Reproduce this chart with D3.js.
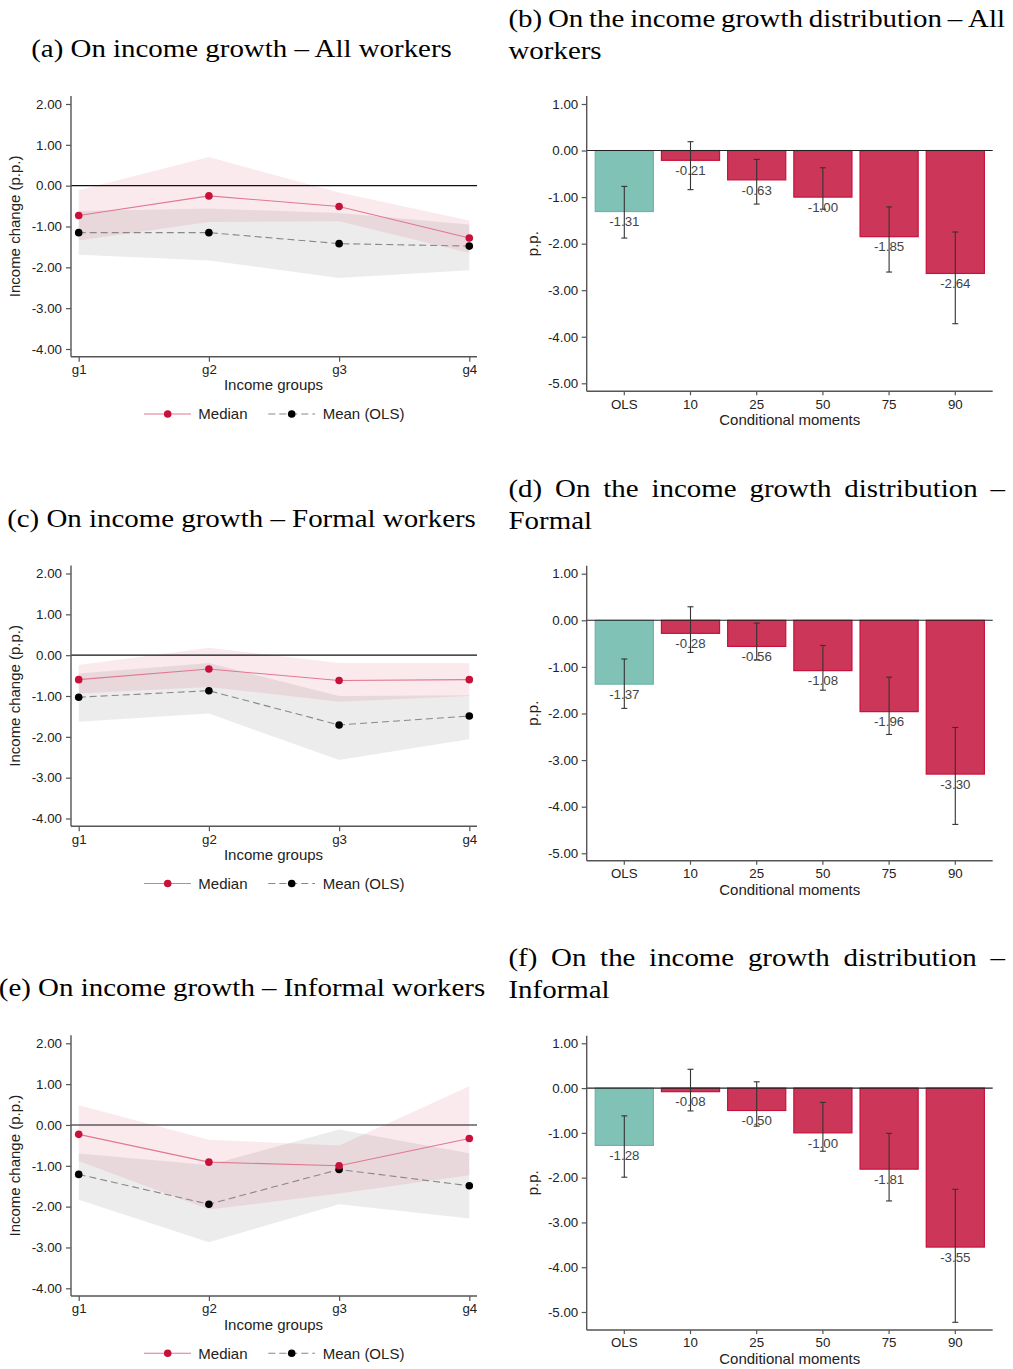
<!DOCTYPE html>
<html>
<head>
<meta charset="utf-8">
<script src="https://cdn.jsdelivr.net/npm/d3@7"></script>
<style>
  html, body { margin: 0; padding: 0; background: #fff; }
  svg { display: block; }
</style>
</head>
<body>
<svg id="chart" width="1013" height="1369"></svg>
<script>
// ---------------- DATA ----------------
const groups = ["g1", "g2", "g3", "g4"];
const moments = ["OLS", "10", "25", "50", "75", "90"];
const lineYTicks = [2, 1, 0, -1, -2, -3, -4];
const barYTicks = [1, 0, -1, -2, -3, -4, -5];
const legendLabels = ["Median", "Mean (OLS)"];

// (a) All workers
const medianAll   = [-0.73, -0.25, -0.51, -1.28];
const medianAllLo = [-1.34, -0.89, -0.87, -1.65];
const medianAllHi = [-0.11,  0.70, -0.17, -0.85];
const meanAll     = [-1.15, -1.15, -1.42, -1.48];
const meanAllLo   = [-1.69, -1.83, -2.26, -2.07];
const meanAllHi   = [-0.62, -0.56, -0.67, -0.95];

// (c) Formal workers
const medianFormal   = [-0.60, -0.34, -0.62, -0.60];
const medianFormalLo = [-0.94, -0.78, -1.14, -1.00];
const medianFormalHi = [-0.24,  0.18, -0.19, -0.20];
const meanFormal     = [-1.03, -0.87, -1.71, -1.49];
const meanFormalLo   = [-1.63, -1.43, -2.57, -2.06];
const meanFormalHi   = [-0.45, -0.19, -1.00, -0.98];

// (e) Informal workers
const medianInformal   = [-0.23, -0.91, -1.00, -0.33];
const medianInformalLo = [-0.88, -2.07, -1.68, -1.23];
const medianInformalHi = [ 0.48, -0.36, -0.50,  0.95];
const meanInformal     = [-1.21, -1.94, -1.09, -1.49];
const meanInformalLo   = [-1.83, -2.87, -1.94, -2.29];
const meanInformalHi   = [-0.70, -0.98, -0.11, -0.69];

// (b) distribution - All
const barsAll   = [-1.31, -0.21, -0.63, -1.00, -1.85, -2.64];
const barsAllLo = [-1.88, -0.84, -1.15, -1.26, -2.61, -3.72];
const barsAllHi = [-0.77,  0.19, -0.19, -0.37, -1.21, -1.75];
// (d) distribution - Formal
const barsFormal   = [-1.37, -0.28, -0.56, -1.08, -1.96, -3.30];
const barsFormalLo = [-1.89, -0.69, -0.85, -1.50, -2.45, -4.38];
const barsFormalHi = [-0.83,  0.29, -0.06, -0.54, -1.22, -2.30];
// (f) distribution - Informal
const barsInformal   = [-1.28, -0.08, -0.50, -1.00, -1.81, -3.55];
const barsInformalLo = [-1.99, -0.51, -0.85, -1.41, -2.52, -5.23];
const barsInformalHi = [-0.62,  0.42,  0.14, -0.32, -1.01, -2.26];

// Titles
const titleA = "(a) On income growth – All workers";
const titleB = ["(b) On the income growth distribution – All", "workers"];
const titleC = "(c) On income growth – Formal workers";
const titleD = ["(d) On the income growth distribution –", "Formal"];
const titleE = "(e) On income growth – Informal workers";
const titleF = ["(f) On the income growth distribution –", "Informal"];

// ---------------- STYLE ----------------
const SANS = "'Liberation Sans', Arial, Helvetica, sans-serif";
const SERIF = "'Liberation Serif', 'Times New Roman', serif";
const AXIS_COL = "#555";
const TEXT_COL = "#222";
const PINK = "#c8103a";
const PINK_LINE = "#e07890";
const TEAL_FILL = "#80c2b6";
const TEAL_STROKE = "#6db5a8";
const BAR_FILL = "#cc3759";
const BAR_STROKE = "#c8103a";

const svg = d3.select("#chart");
const fmt = d => d.toFixed(2);

// ---------------- LINE PANELS ----------------
function linePanel(off, med, medLo, medHi, mean, meanLo, meanHi) {
  const g = svg.append("g");
  const left = 71, right = 477, top = 96 + off, bottom = 356.7 + off;
  const x = d3.scalePoint().domain(groups).range([78.7, 469.3]);
  const y = d3.scaleLinear().domain([2, -4]).range([104 + off, 349 + off]);

  const rows = groups.map((k, i) => ({k, med: med[i], medLo: medLo[i], medHi: medHi[i],
    mean: mean[i], meanLo: meanLo[i], meanHi: meanHi[i]}));

  // bands
  g.append("path").datum(rows)
    .attr("d", d3.area().x(d => x(d.k)).y0(d => y(d.meanLo)).y1(d => y(d.meanHi)))
    .attr("fill", "#000").attr("fill-opacity", 0.075);
  g.append("path").datum(rows)
    .attr("d", d3.area().x(d => x(d.k)).y0(d => y(d.medLo)).y1(d => y(d.medHi)))
    .attr("fill", PINK).attr("fill-opacity", 0.085);

  // zero line
  g.append("line").attr("x1", left).attr("x2", right)
    .attr("y1", y(0)).attr("y2", y(0)).attr("stroke", "#111").attr("stroke-width", 1.1);

  // y axis
  const ya = g.append("g").attr("transform", `translate(${left},0)`)
    .call(d3.axisLeft(y).tickValues(lineYTicks).tickSize(5).tickPadding(4).tickFormat(fmt));
  ya.select(".domain").remove();
  ya.selectAll(".tick line").attr("stroke", AXIS_COL).attr("stroke-width", 1.2);
  ya.selectAll(".tick text").attr("font-family", SANS).attr("font-size", 13.3).attr("fill", TEXT_COL);
  g.append("line").attr("x1", left).attr("x2", left).attr("y1", top).attr("y2", bottom)
    .attr("stroke", AXIS_COL).attr("stroke-width", 1.4);

  // x axis
  const xa = g.append("g").attr("transform", `translate(0,${bottom})`)
    .call(d3.axisBottom(x).tickSize(5).tickPadding(3));
  xa.select(".domain").remove();
  xa.selectAll(".tick line").attr("stroke", AXIS_COL).attr("stroke-width", 1.2);
  xa.selectAll(".tick text").attr("font-family", SANS).attr("font-size", 13.3).attr("fill", TEXT_COL);
  g.append("line").attr("x1", left).attr("x2", right).attr("y1", bottom).attr("y2", bottom)
    .attr("stroke", AXIS_COL).attr("stroke-width", 1.4);

  // lines
  g.append("path").datum(rows)
    .attr("d", d3.line().x(d => x(d.k)).y(d => y(d.mean)))
    .attr("fill", "none").attr("stroke", "#888").attr("stroke-width", 1.1)
    .attr("stroke-dasharray", "7,4");
  g.append("path").datum(rows)
    .attr("d", d3.line().x(d => x(d.k)).y(d => y(d.med)))
    .attr("fill", "none").attr("stroke", PINK_LINE).attr("stroke-width", 1.1);

  g.selectAll(".mdot").data(rows).enter().append("circle")
    .attr("cx", d => x(d.k)).attr("cy", d => y(d.mean)).attr("r", 3.8).attr("fill", "#000");
  g.selectAll(".pdot").data(rows).enter().append("circle")
    .attr("cx", d => x(d.k)).attr("cy", d => y(d.med)).attr("r", 3.8).attr("fill", PINK);

  // axis titles
  g.append("text").attr("x", 273.5).attr("y", 390.4 + off).attr("text-anchor", "middle")
    .attr("font-family", SANS).attr("font-size", 15).attr("fill", TEXT_COL).text("Income groups");
  g.append("text").attr("transform", `translate(19.5,${(top + bottom) / 2}) rotate(-90)`)
    .attr("text-anchor", "middle")
    .attr("font-family", SANS).attr("font-size", 15).attr("fill", TEXT_COL).text("Income change (p.p.)");

  // legend
  const ly = 414 + off;
  g.append("line").attr("x1", 144).attr("x2", 191).attr("y1", ly).attr("y2", ly)
    .attr("stroke", PINK_LINE).attr("stroke-width", 1.1);
  g.append("circle").attr("cx", 167.7).attr("cy", ly).attr("r", 3.8).attr("fill", PINK);
  g.append("text").attr("x", 198.3).attr("y", ly + 5.4).attr("font-family", SANS)
    .attr("font-size", 15).attr("fill", TEXT_COL).text(legendLabels[0]);
  g.append("line").attr("x1", 268.3).attr("x2", 315).attr("y1", ly).attr("y2", ly)
    .attr("stroke", "#888").attr("stroke-width", 1.1).attr("stroke-dasharray", "7,4");
  g.append("circle").attr("cx", 291.7).attr("cy", ly).attr("r", 3.8).attr("fill", "#000");
  g.append("text").attr("x", 322.7).attr("y", ly + 5.4).attr("font-family", SANS)
    .attr("font-size", 15).attr("fill", TEXT_COL).text(legendLabels[1]);
}

// ---------------- BAR PANELS ----------------
function barPanel(top, bottom, y1px, y5px, vals, lo, hi) {
  const g = svg.append("g");
  const left = 586.7, right = 992.7;
  const x = d3.scaleBand().domain(moments).range([591.2, 988.4])
    .paddingInner(0.104).paddingOuter(0.052);
  const y = d3.scaleLinear().domain([1, -5]).range([y1px, y5px]);
  const rows = moments.map((k, i) => ({k, v: vals[i], lo: lo[i], hi: hi[i], i}));

  // bars
  g.selectAll(".bar").data(rows).enter().append("rect")
    .attr("x", d => x(d.k) + 0.6).attr("width", x.bandwidth() - 1.2)
    .attr("y", d => Math.min(y(0), y(d.v)))
    .attr("height", d => Math.abs(y(d.v) - y(0)))
    .attr("fill", d => d.i === 0 ? TEAL_FILL : BAR_FILL)
    .attr("stroke", d => d.i === 0 ? TEAL_STROKE : BAR_STROKE)
    .attr("stroke-width", 1.2);

  // zero line
  g.append("line").attr("x1", left).attr("x2", right).attr("y1", y(0)).attr("y2", y(0))
    .attr("stroke", "#222").attr("stroke-width", 1.1);

  // value labels
  g.selectAll(".vl").data(rows).enter().append("text")
    .attr("x", d => x(d.k) + x.bandwidth() / 2).attr("y", d => y(d.v) + 14.8)
    .attr("text-anchor", "middle").attr("font-family", SANS).attr("font-size", 13.3)
    .attr("fill", "#444").text(d => fmt(d.v));

  // error bars
  const eb = g.selectAll(".eb").data(rows).enter().append("g")
    .attr("stroke", "#333").attr("stroke-width", 1.1);
  eb.append("line").attr("x1", d => x(d.k) + x.bandwidth() / 2).attr("x2", d => x(d.k) + x.bandwidth() / 2)
    .attr("y1", d => y(d.hi)).attr("y2", d => y(d.lo));
  eb.append("line").attr("x1", d => x(d.k) + x.bandwidth() / 2 - 3).attr("x2", d => x(d.k) + x.bandwidth() / 2 + 3)
    .attr("y1", d => y(d.hi)).attr("y2", d => y(d.hi));
  eb.append("line").attr("x1", d => x(d.k) + x.bandwidth() / 2 - 3).attr("x2", d => x(d.k) + x.bandwidth() / 2 + 3)
    .attr("y1", d => y(d.lo)).attr("y2", d => y(d.lo));

  // y axis
  const ya = g.append("g").attr("transform", `translate(${left},0)`)
    .call(d3.axisLeft(y).tickValues(barYTicks).tickSize(5).tickPadding(3.5).tickFormat(fmt));
  ya.select(".domain").remove();
  ya.selectAll(".tick line").attr("stroke", AXIS_COL).attr("stroke-width", 1.2);
  ya.selectAll(".tick text").attr("font-family", SANS).attr("font-size", 13.3).attr("fill", TEXT_COL);
  g.append("line").attr("x1", left).attr("x2", left).attr("y1", top).attr("y2", bottom)
    .attr("stroke", AXIS_COL).attr("stroke-width", 1.4);

  // x axis
  const xa = g.append("g").attr("transform", `translate(0,${bottom})`)
    .call(d3.axisBottom(x).tickSize(4).tickPadding(4));
  xa.select(".domain").remove();
  xa.selectAll(".tick line").attr("stroke", AXIS_COL).attr("stroke-width", 1.2);
  xa.selectAll(".tick text").attr("font-family", SANS).attr("font-size", 13.3).attr("fill", TEXT_COL);
  g.append("line").attr("x1", left).attr("x2", right).attr("y1", bottom).attr("y2", bottom)
    .attr("stroke", AXIS_COL).attr("stroke-width", 1.4);

  // axis titles
  g.append("text").attr("x", 789.7).attr("y", bottom + 34)
    .attr("text-anchor", "middle").attr("font-family", SANS).attr("font-size", 15)
    .attr("fill", TEXT_COL).text("Conditional moments");
  g.append("text").attr("transform", `translate(538,${(top + bottom) / 2}) rotate(-90)`)
    .attr("text-anchor", "middle").attr("font-family", SANS).attr("font-size", 15)
    .attr("fill", TEXT_COL).text("p.p.");
}

linePanel(0, medianAll, medianAllLo, medianAllHi, meanAll, meanAllLo, meanAllHi);
linePanel(469.5, medianFormal, medianFormalLo, medianFormalHi, meanFormal, meanFormalLo, meanFormalHi);
linePanel(939.3, medianInformal, medianInformalLo, medianInformalHi, meanInformal, meanInformalLo, meanInformalHi);

barPanel(96, 391.3, 104, 383.3, barsAll, barsAllLo, barsAllHi);
barPanel(565.7, 860.7, 573.7, 853.3, barsFormal, barsFormalLo, barsFormalHi);
barPanel(1035.7, 1330, 1043.3, 1312, barsInformal, barsInformalLo, barsInformalHi);

// ---------------- TITLES ----------------
const TFS = 26;
const measure = svg.append("text").attr("font-family", SERIF).attr("font-size", TFS).attr("opacity", 0);
function textW(s) { measure.text(s); return measure.node().getComputedTextLength(); }
const scales = [[titleA, 421.2], [titleC, 469], [titleE, 486]].map(([s, w]) => w / textW(s));
const S = d3.mean(scales);

function titleText(str, x, y, anchor) {
  svg.append("text").attr("transform", `translate(${x},${y}) scale(${S},1)`)
    .attr("text-anchor", anchor).attr("font-family", SERIF).attr("font-size", TFS)
    .attr("fill", "#000").text(str);
}
function justified(str, x0, x1, y) {
  const words = str.split(" ");
  const ws = words.map(w => textW(w) * S);
  const gap = (x1 - x0 - d3.sum(ws)) / (words.length - 1);
  let px = x0;
  words.forEach((w, i) => { titleText(w, px, y, "start"); px += ws[i] + gap; });
}
titleText(titleA, 241.5, 57.3, "middle");
titleText(titleC, 241.5, 526.8, "middle");
titleText(titleE, 242, 996, "middle");
justified(titleB[0], 508.5, 1005, 27.3);
titleText(titleB[1], 508.5, 59.3, "start");
justified(titleD[0], 508.5, 1005, 496.8);
titleText(titleD[1], 508.5, 529, "start");
justified(titleF[0], 508.5, 1005, 966.2);
titleText(titleF[1], 508.5, 998.3, "start");
measure.remove();
</script>
</body>
</html>
